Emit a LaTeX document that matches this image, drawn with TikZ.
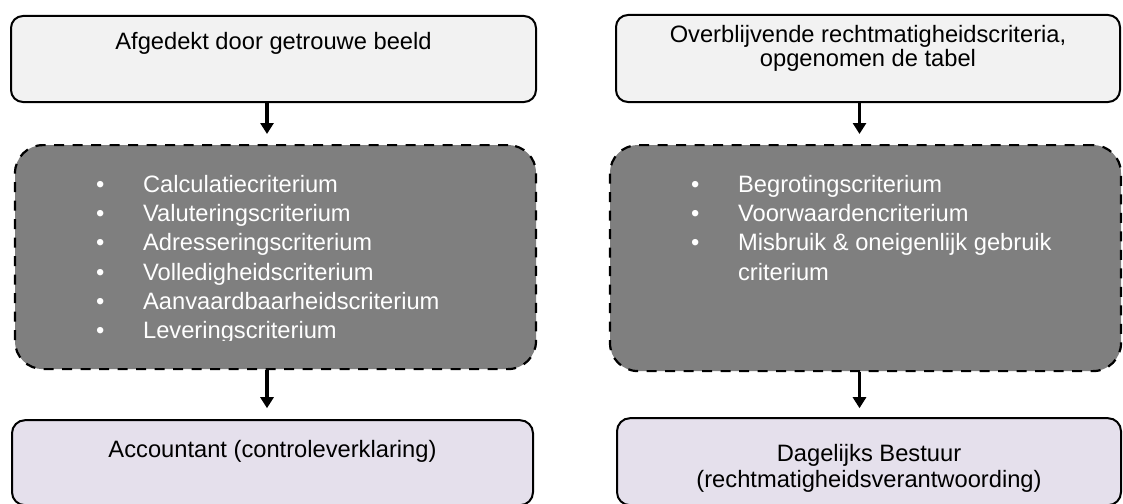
\documentclass[tikz,border=0pt]{standalone}
\usepackage{fontspec}
\setmainfont{Liberation Sans}
\usetikzlibrary{positioning,arrows.meta}
\definecolor{mylight}{RGB}{242,242,242}
\definecolor{mydark}{RGB}{127,127,127}
\definecolor{mylilac}{RGB}{229,224,236}
\newcommand{\bul}{\makebox[47pt][l]{\textbullet}}

\begin{document}
\begin{tikzpicture}[x=1pt,y=1pt,
  topbox/.style={draw,line width=2pt,rounded corners=12pt,fill=mylight,inner sep=0pt},
  critbox/.style={draw,line width=2.2pt,dash pattern=on 10pt off 8.5pt,
    rounded corners=28pt,fill=mydark,inner sep=0pt},
  endbox/.style={draw,line width=2pt,rounded corners=13pt,fill=mylilac,inner sep=0pt},
  boxtext/.style={inner sep=0pt,align=center,font=\fontsize{23.7}{26}\selectfont},
  crittext/.style={inner sep=0pt,align=left,text=white,font=\fontsize{23.7}{29.3}\selectfont},
  flow/.style={line width=3.5pt,-{Triangle[width=13pt,length=11pt]}}]

  \useasboundingbox[fill=white] (0,0) rectangle (1123,-503);

  % left column
  \node[topbox,minimum width=525pt,minimum height=86pt] (top1) at (273.5,-59) {};
  \node[critbox,minimum width=521pt,minimum height=224pt,below=41pt of top1,xshift=2pt] (crit1) {};
  \node[endbox,minimum width=521pt,minimum height=85pt,below=49pt of crit1,xshift=-3pt] (end1) {};

  % right column
  \node[topbox,minimum width=504pt,minimum height=87pt] (top2) at (868,-58.5) {};
  \node[critbox,minimum width=511pt,minimum height=226pt,below=41pt of top2,xshift=-2.5pt] (crit2) {};
  \node[endbox,minimum width=504pt,minimum height=87pt,below=45pt of crit2,xshift=3.5pt] (end2) {};

  \node[boxtext,below=17pt of top1.north] (txt1) {Afgedekt door getrouwe beeld};
  \node[boxtext,font=\fontsize{23.7}{24}\selectfont,below=11pt of top2.north] (txt2)
    {Overblijvende rechtmatigheidscriteria,\\opgenomen de tabel};
  \node[boxtext,below=20.5pt of end1.north] (txt5) {Accountant (controleverklaring)};
  \node[boxtext,below=27pt of end2.north] (txt6) {Dagelijks Bestuur\\(rechtmatigheidsverantwoording)};

  % criteria lists
  \begin{scope}
    \clip ([yshift=30pt]crit1.south west) rectangle (crit1.north east);
    \node[crittext,below right=31pt and 82pt of crit1.north west] (list1)
      {\bul Calculatiecriterium\\\bul Valuteringscriterium\\\bul Adresseringscriterium\\
       \bul Volledigheidscriterium\\\bul Aanvaardbaarheidscriterium\\\bul Leveringscriterium};
  \end{scope}
  \node[crittext,below right=31pt and 82pt of crit2.north west] (list2)
    {\bul Begrotingscriterium\\\bul Voorwaardencriterium\\\bul Misbruik \& oneigenlijk gebruik\\
     \hspace*{47pt}criterium};

  \draw[flow,shorten >=10pt] ([xshift=-6.5pt]top1.south) -- ([xshift=-8.5pt]crit1.north);
  \draw[flow,shorten >=11pt] ([xshift=-8.5pt]crit1.south) -- ([xshift=-5.5pt]end1.north);
  \draw[flow,shorten >=10pt] ([xshift=-8.5pt]top2.south) -- ([xshift=-6pt]crit2.north);
  \draw[flow,shorten >=9pt] ([xshift=-6pt]crit2.south) -- ([xshift=-9.5pt]end2.north);
\end{tikzpicture}
\end{document}
